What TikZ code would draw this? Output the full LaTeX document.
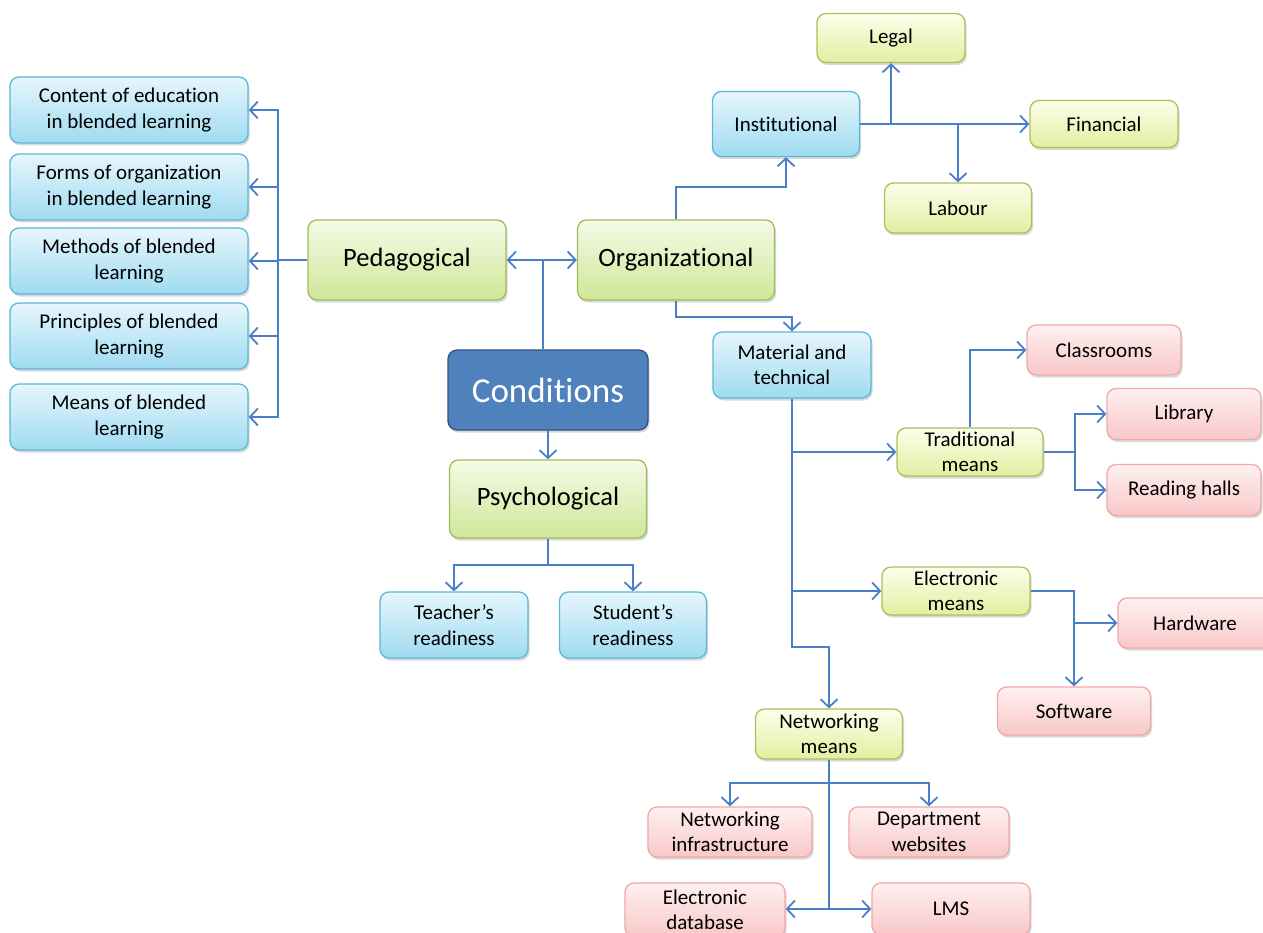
\documentclass[tikz,border=0pt]{standalone}
\usepackage{fontspec}
\setmainfont{Carlito}[Ligatures=NoCommon]
\usetikzlibrary{arrows.meta,shadows}
\definecolor{lineblue}{HTML}{4A7EC8}
\definecolor{bluetop}{HTML}{E6F6FC}
\definecolor{bluebot}{HTML}{9FDBF1}
\definecolor{blueborder}{HTML}{5CB6D6}
\definecolor{greentop}{HTML}{F5FAE6}
\definecolor{greenbot}{HTML}{CFE79A}
\definecolor{greenborder}{HTML}{9DBD5C}
\definecolor{yeltop}{HTML}{FCFEEC}
\definecolor{yelbot}{HTML}{E3EEA0}
\definecolor{yelborder}{HTML}{A8C25A}
\definecolor{pinktop}{HTML}{FFF0F0}
\definecolor{pinkbot}{HTML}{F8C8C8}
\definecolor{pinkborder}{HTML}{F0A8A8}
\definecolor{condfill}{HTML}{4F81BD}
\definecolor{condborder}{HTML}{2E5382}
\tikzset{
  conn/.style={draw=lineblue, line width=2.1pt, -{Straight Barb[length=8pt,width=17pt,line width=1.8pt]}},
  plain/.style={draw=lineblue, line width=2.1pt},
  box/.style={rounded corners=9pt, align=center, inner sep=0pt, line width=1.3pt,
    font=\fontsize{21}{25.5}\selectfont,
    drop shadow={shadow xshift=1.5pt, shadow yshift=-2.5pt, opacity=0.25, fill=black!60}},
  bluebox/.style={box, draw=blueborder, top color=bluetop, bottom color=bluebot},
  greenbox/.style={box, draw=greenborder, top color=greentop, bottom color=greenbot, font=\fontsize{26.5}{31}\selectfont},
  yelbox/.style={box, draw=yelborder, top color=yeltop, bottom color=yelbot},
  pinkbox/.style={box, draw=pinkborder, top color=pinktop, bottom color=pinkbot},
  condbox/.style={box, draw=condborder, fill=condfill, text=white, font=\fontsize{35}{40}\selectfont},
  sz/.style 2 args={minimum width=#1pt, minimum height=#2pt}
}
\begin{document}
\begin{tikzpicture}[x=1pt,y=-1pt]
\useasboundingbox (0,0) rectangle (1263,933);
% left column
\node[bluebox, sz={238}{66}] (content) at (129,110) {Content of education\\in blended learning};
\node[bluebox, sz={238}{66}] (forms) at (129,187) {Forms of organization\\in blended learning};
\node[bluebox, sz={238}{66}] (methods) at (129,261) {Methods of blended\\learning};
\node[bluebox, sz={238}{66}] (principles) at (129,336) {Principles of blended\\learning};
\node[bluebox, sz={238}{66}] (meansbl) at (129,417) {Means of blended\\learning};
% main
\node[greenbox, sz={198}{80}] (ped) at (407,260) {Pedagogical};
\node[greenbox, sz={197}{80}] (org) at (676,260) {Organizational};
\node[condbox, sz={200}{80}] (cond) at (548,390) {Conditions};
\node[greenbox, sz={197}{78}] (psy) at (548,499) {Psychological};
\node[bluebox, sz={148}{66}] (teacher) at (454,625) {Teacher’s\\readiness};
\node[bluebox, sz={147}{66}] (student) at (633,625) {Student’s\\readiness};
% organizational
\node[bluebox, sz={147}{65}] (inst) at (786,124) {Institutional};
\node[yelbox, sz={148}{49}] (legal) at (891,38) {Legal};
\node[yelbox, sz={148}{47}] (fin) at (1104,124) {Financial};
\node[yelbox, sz={147}{50}] (labour) at (958,208) {Labour};
\node[bluebox, sz={158}{66}] (mat) at (792,365) {Material and\\technical};
\node[yelbox, sz={146}{48}] (trad) at (970,452) {Traditional\\means};
\node[pinkbox, sz={154}{50}] (class) at (1104,350) {Classrooms};
\node[pinkbox, sz={154}{51}] (lib) at (1184,414) {Library};
\node[pinkbox, sz={154}{51}] (read) at (1184,490) {Reading halls};
\node[yelbox, sz={148}{48}] (elec) at (956,591) {Electronic\\means};
\node[pinkbox, sz={154}{50}] (hard) at (1195,623) {Hardware};
\node[pinkbox, sz={153}{48}] (soft) at (1074,711) {Software};
\node[yelbox, sz={147}{50}] (net) at (829,734) {Networking\\means};
\node[pinkbox, sz={164}{50}] (ninf) at (730,832) {Networking\\infrastructure};
\node[pinkbox, sz={160}{50}] (dept) at (929,832) {Department\\websites};
\node[pinkbox, sz={160}{54}] (edb) at (705,910) {Electronic\\database};
\node[pinkbox, sz={158}{52}] (lms) at (951,909) {LMS};
% connectors: pedagogical
\coordinate (pbus) at (278,260);
\draw[plain] (ped.west) -- (pbus);
\foreach \n in {content,forms,methods,principles,meansbl}
  \draw[conn] (pbus) |- (\n.east);
% conditions
\coordinate (cj) at (543,260);
\draw[plain] (cond.north -| cj) -- (cj);
\draw[conn] (cj) -- (ped.east);
\draw[conn] (cj) -- (org.west);
\draw[conn] (cond.south) -- (psy.north);
\coordinate (pj) at (548,565);
\draw[plain] (psy.south) -- (pj);
\draw[conn] (pj) -| (teacher.north);
\draw[conn] (pj) -| (student.north);
% organizational
\draw[conn] (org.north) -- ++(0,-32) -| (inst.south);
\draw[conn] (inst.east) -- (fin.west);
\draw[conn] (inst.east -| legal.south) -- (legal.south);
\draw[conn] (inst.east -| labour.north) -- (labour.north);
\draw[conn] (org.south) -- ++(0,16) -| (mat.north);
% material
\coordinate (mj) at (792,647);
\draw[conn] (mat.south) -- (mj) -| (net.north);
\draw[conn] (mat.south |- trad.west) -- (trad.west);
\draw[conn] (mat.south |- elec.west) -- (elec.west);
\draw[conn] (trad.north) |- (class.west);
\coordinate (tj) at (1075,452);
\draw[plain] (trad.east) -- (tj);
\draw[conn] (tj) |- (lib.west);
\draw[conn] (tj) |- (read.west);
\draw[conn] (elec.east) -| (soft.north);
\draw[conn] (soft.north |- hard.west) -- (hard.west);
% networking
\coordinate (nj) at (829,783);
\coordinate (nb) at (829,909);
\draw[plain] (net.south) -- (nb);
\draw[conn] (nj) -| (ninf.north);
\draw[conn] (nj) -| (dept.north);
\draw[conn] (nb) -- (edb.east |- nb);
\draw[conn] (nb) -- (lms.west);
\end{tikzpicture}
\end{document}
